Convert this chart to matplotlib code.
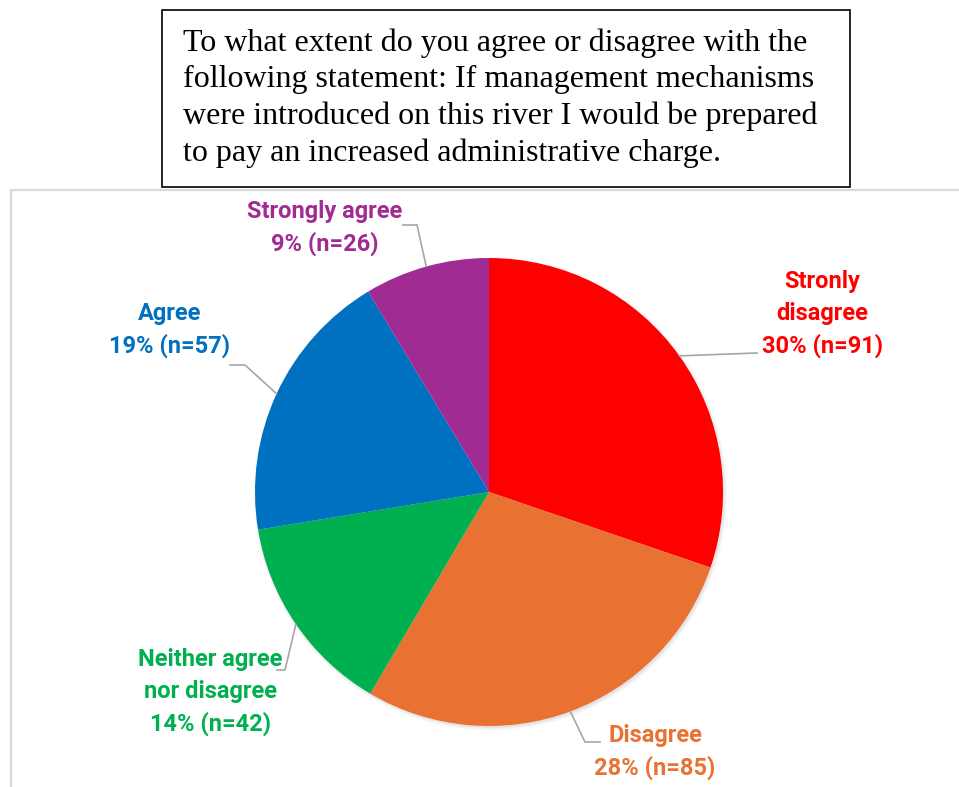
import numpy as np
import matplotlib
matplotlib.use('Agg')
import matplotlib.pyplot as plt
from matplotlib.patches import Rectangle, Circle

W, H = 959, 787

labels = ['Stronly\ndisagree', 'Disagree', 'Neither agree\nnor disagree', 'Agree', 'Strongly agree']
counts = [91, 85, 42, 57, 26]
colors = ['#FF0000', '#E97132', '#00B050', '#0070C0', '#A02B93']

question = ('To what extent do you agree or disagree with the\n'
            'following statement: If management mechanisms\n'
            'were introduced on this river I would be prepared\n'
            'to pay an increased administrative charge.')

# label layout, in pixels: text centre, then the leader line path (elbow, end)
label_pos = [(822, 314), (655, 752), (210, 692), (170, 330), (325, 228)]
leader_path = [[(757, 353)],
               [(585, 742), (600, 742)],
               [(285, 670), (277, 670)],
               [(245, 365), (230, 365)],
               [(417, 225), (403, 225)]]

cx, cy, r = 489, 492, 234

fig = plt.figure(figsize=(W / 100, H / 100), dpi=100)
fig.patch.set_facecolor('white')

# chart area frame
fig.patches.append(Rectangle((11 / W, -0.05), 1.2, (H - 190) / H + 0.05,
                             transform=fig.transFigure, fill=False,
                             edgecolor='#d9d9d9', linewidth=1.6))

# question box
fig.patches.append(Rectangle((162 / W, (H - 187) / H), (850 - 162) / W, (187 - 10) / H,
                             transform=fig.transFigure, facecolor='white',
                             edgecolor='black', linewidth=1.2, zorder=3))
fig.text(183 / W, (H - 28) / H, question, ha='left', va='top',
         family='Liberation Serif', fontsize=23, linespacing=1.33, zorder=4)

ax = fig.add_axes([(cx - r) / W, (H - cy - r) / H, 2 * r / W, 2 * r / H])


def px(p):
    return ((p[0] - cx) / r, (cy - p[1]) / r)


# soft shadow under the pie, mostly to the lower right
for i, a in enumerate([0.025, 0.035, 0.05]):
    ax.add_patch(Circle((0.006, -0.008), 1.0 + 0.006 * (2 - i), color='black',
                        alpha=a, linewidth=0, zorder=0, clip_on=False))

total = sum(counts)
wedges, _ = ax.pie(counts, colors=colors, startangle=90, counterclock=False,
                   radius=1.0, wedgeprops=dict(linewidth=0))
for w in wedges:
    w.set_zorder(1)
    w.set_clip_on(False)

for w, lab, n, col, pos, path in zip(wedges, labels, counts, colors, label_pos, leader_path):
    mid = np.deg2rad((w.theta1 + w.theta2) / 2)
    pts = [(np.cos(mid), np.sin(mid))] + [px(p) for p in path]
    xs, ys = zip(*pts)
    ax.plot(xs, ys, color='#a6a6a6', linewidth=1.2, zorder=2, clip_on=False)
    pct = round(100 * n / total)
    tx, ty = px(pos)
    ax.text(tx, ty, f'{lab}\n{pct}% (n={n})', ha='center', va='center',
            color=col, fontsize=17, fontweight='bold', family='Roboto',
            linespacing=1.5, zorder=3, clip_on=False)

ax.set_xlim(-1, 1)
ax.set_ylim(-1, 1)
ax.set_aspect('equal')
ax.axis('off')

fig.savefig('out.png', dpi=100)
